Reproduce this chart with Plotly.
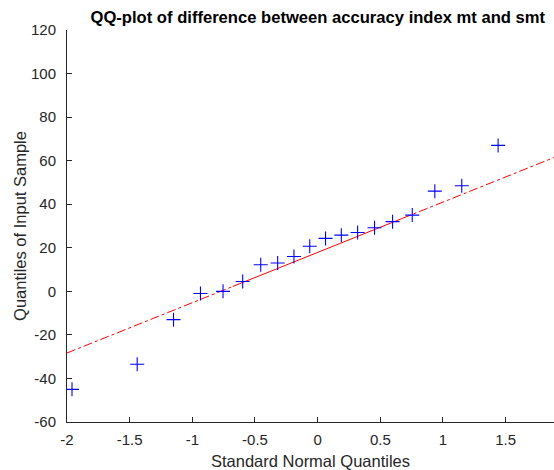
import numpy as np
import plotly.graph_objects as go

# Theoretical standard normal quantiles
normal_quantiles = [-1.96, -1.44, -1.15, -0.935, -0.755, -0.598, -0.454, -0.319, -0.189, -0.063,
                    0.063, 0.189, 0.319, 0.454, 0.598, 0.755, 0.935, 1.15, 1.44]
# Sample quantiles
sample_quantiles = [-45, -33.5, -13, -1, 0, 4.5, 12.2, 13, 16, 20.7,
                    24.3, 25.8, 27, 29.2, 32, 35, 46, 48.5, 67]

x_ticks = [-2, -1.5, -1, -0.5, 0, 0.5, 1, 1.5]
x_tick_labels = ["-2", "-1.5", "-1", "-0.5", "0", "0.5", "1", "1.5"]
y_ticks = [-60, -40, -20, 0, 20, 40, 60, 80, 100, 120]
y_tick_labels = [str(v) for v in y_ticks]

title_text = "QQ-plot of difference between accuracy index mt and smt"
x_label = "Standard Normal Quantiles"
y_label = "Quantiles of Input Sample"

x_range = [-2, 1.886]
y_range = [-60, 120]

# Reference line through first and third quartiles (as qqplot does)
xs = np.array(normal_quantiles + [1.96])
ys = np.sort(np.array(sample_quantiles))
q1x, q3x = (xs[4] + xs[5]) / 2, (xs[14] + xs[15]) / 2
q1y, q3y = (ys[4] + ys[5]) / 2, (ys[14] + ys[15]) / 2
slope = (q3y - q1y) / (q3x - q1x)
def line(x):
    return q1y + slope * (x - q1x)

fig = go.Figure()
fig.add_trace(go.Scatter(
    x=[x_range[0], q1x], y=[line(x_range[0]), line(q1x)], mode="lines",
    line=dict(color="#ff0000", width=1, dash="dashdot"), showlegend=False, hoverinfo="skip"))
fig.add_trace(go.Scatter(
    x=[q3x, x_range[1]], y=[line(q3x), line(x_range[1])], mode="lines",
    line=dict(color="#ff0000", width=1, dash="dashdot"), showlegend=False, hoverinfo="skip"))
fig.add_trace(go.Scatter(
    x=[q1x, q3x], y=[line(q1x), line(q3x)], mode="lines",
    line=dict(color="#ff0000", width=1), showlegend=False, hoverinfo="skip"))
fig.add_trace(go.Scatter(
    x=normal_quantiles, y=sample_quantiles, mode="markers",
    marker=dict(symbol="cross-thin", size=10, line=dict(color="#0000ff", width=1.1)),
    showlegend=False))

axis_color = "#262626"
fig.update_layout(
    width=554, height=470,
    margin=dict(l=67, r=0, t=30, b=48),
    paper_bgcolor="white", plot_bgcolor="white",
    font=dict(family="Liberation Sans, Arial, sans-serif", size=15, color=axis_color),
    title=dict(text="<b>" + title_text + "</b>", x=0.515, xref="paper", xanchor="center",
               y=1 - 17 / 470, yref="container", yanchor="middle",
               font=dict(size=16.6, color="#000000")),
    xaxis=dict(range=x_range, tickvals=x_ticks, ticktext=x_tick_labels,
               showline=True, linecolor=axis_color, linewidth=1, mirror=False,
               ticks="inside", ticklen=5, tickcolor=axis_color, ticklabelstandoff=4,
               tickfont=dict(size=15),
               showgrid=False, zeroline=False,
               title=dict(text=x_label, font=dict(size=16.5), standoff=9)),
    yaxis=dict(range=y_range, tickvals=y_ticks, ticktext=y_tick_labels,
               showline=True, linecolor=axis_color, linewidth=1, mirror=False,
               ticks="inside", ticklen=5, tickcolor=axis_color, ticklabelstandoff=7,
               tickfont=dict(size=15),
               showgrid=False, zeroline=False,
               title=dict(text=y_label, font=dict(size=16.5), standoff=0)),
)

fig.write_html("out.html")
